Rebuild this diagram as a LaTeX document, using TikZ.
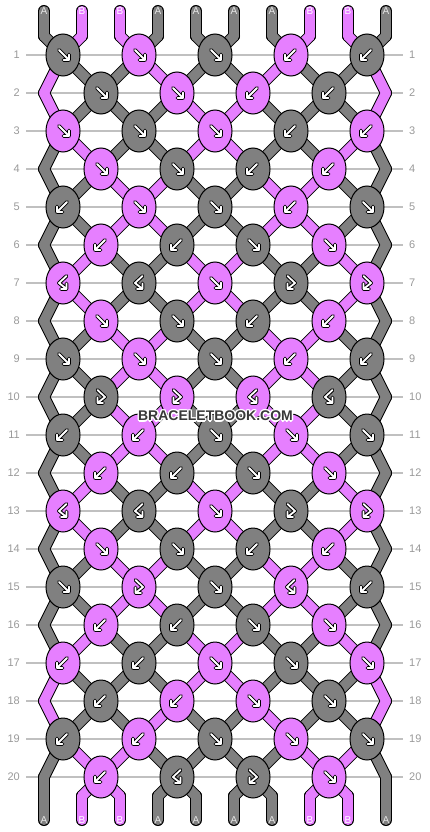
\documentclass[tikz,border=0pt]{standalone}
\usepackage{fontspec}
\setmainfont{Liberation Sans}
\usepackage{xstring}
\usetikzlibrary{shapes.geometric}

\definecolor{strA}{HTML}{808080}
\definecolor{strB}{HTML}{E67FFF}
\definecolor{labA}{HTML}{E6E6E6}
\definecolor{labB}{HTML}{FFFFFF}
\definecolor{rowline}{HTML}{C0C0C0}
\definecolor{rownum}{HTML}{999999}

\pgfdeclarelayer{lines}
\pgfdeclarelayer{strings}
\pgfsetlayers{lines,strings,main}

% knot arrows, y pointing down: f, b, x = forward-backward, y = backward-forward
\def\arrf{(-4,-5) -- (6,5) (0.5,5) -- (6,5) -- (6,-0.5)}
\def\arrb{(4,-5) -- (-6,5) (-0.5,5) -- (-6,5) -- (-6,-0.5)}
\def\arrx{(-3.5,-7) -- (4,0) -- (-3.5,6) (-3.5,0.5) -- (-3.5,6) -- (2,6)}
\def\arry{(3.5,-7) -- (-4,0) -- (3.5,6) (3.5,0.5) -- (3.5,6) -- (-2,6)}

% knot colour / knot type, row by row
\def\knotrows{%
  1/{A/f,B/f,A/f,B/b,A/b},
  2/{A/f,B/f,B/b,A/b},
  3/{B/f,A/f,B/f,A/b,B/b},
  4/{B/f,A/f,A/b,B/b},
  5/{A/b,B/f,A/f,B/b,A/f},
  6/{B/b,A/b,A/f,B/f},
  7/{B/y,A/y,B/f,A/x,B/x},
  8/{B/f,A/f,A/b,B/b},
  9/{A/f,B/f,A/f,B/b,A/b},
  10/{A/x,B/x,B/y,A/y},
  11/{A/b,B/b,A/f,B/f,A/f},
  12/{B/b,A/b,A/f,B/f},
  13/{B/y,A/y,B/f,A/x,B/x},
  14/{B/f,A/f,A/b,B/b},
  15/{A/f,B/x,A/f,B/y,A/b},
  16/{B/b,A/b,A/f,B/f},
  17/{B/b,A/b,B/f,A/f,B/f},
  18/{A/b,B/b,B/f,A/f},
  19/{A/b,B/b,A/f,B/f,A/f},
  20/{B/b,A/y,A/x,B/f}}

% strings in each position after row 0,...,20
\def\states{ABBAAAABBA,BAABAABAAB,BAAABBAAAB,ABAABBAABA,AABBAABBAA,AABBAABBAA,%
  ABAABBAABA,ABAABBAABA,AABBAABBAA,AABBAABBAA,AABBAABBAA,AABBAABBAA,%
  ABAABBAABA,ABAABBAABA,AABBAABBAA,AABBAABBAA,ABAABBAABA,BAAABBAAAB,%
  BAABAABAAB,ABBAAAABBA,ABBAAAABBA}

% #1 := name of the point where string position #3 sits in row #2
\newcommand{\posname}[3]{%
  \ifnum#2=0 \edef#1{top#3}%
  \else\ifnum#2=21 \edef#1{bot#3}%
  \else\ifodd#2 \pgfmathtruncatemacro\kj{floor(#3/2)}\edef#1{k#2-\kj}%
  \else\ifnum#3=0 \edef#1{eL#2}%
  \else\ifnum#3=9 \edef#1{eR#2}%
  \else\pgfmathtruncatemacro\kj{floor((#3-1)/2)}\edef#1{k#2-\kj}%
  \fi\fi\fi\fi\fi}

\newcommand{\stringpass}[1]{%
  \foreach \st [count=\rw from 0] in \states {
    \pgfmathtruncatemacro\rn{\rw+1}
    \foreach \p [count=\q] in {0,...,9} {
      \StrChar{\st}{\q}[\ch]
      \posname\pa\rw\p
      \posname\pb\rn\p
      \draw[#1=\ch] (\pa.center) -- (\pb.center);
      \ifnum\rw=0 \draw[#1=\ch] (lt\p.center) -- (top\p.center);\fi
      \ifnum\rw=20 \draw[#1=\ch] (bot\p.center) -- (lb\p.center);\fi
    }
  }}

\begin{document}
\begin{tikzpicture}[x=1pt,y=-1pt,
  knot/.style={ellipse,draw=black,line width=1,minimum width=34,minimum height=42,inner sep=0},
  arrback/.style={draw=black,line width=3.8,line cap=round,line join=round},
  arrfront/.style={draw=white,line width=1.8,line cap=round,line join=round},
  strout/.style={draw=black,line width=12,line cap=round,line join=round},
  strfill/.style={draw=str#1,line width=10,line cap=round,line join=round},
  strlab/.style={font=\fontsize{10}{10}\selectfont,inner sep=0},
  rowlab/.style={font=\fontsize{11}{11}\selectfont,text=rownum,inner xsep=6,inner ysep=0},
  rowline/.style={draw=rowline,line width=1.2},
  wmark/.style={font=\bfseries\fontsize{14}{14}\selectfont,inner sep=0}]
  \useasboundingbox (0,0) rectangle (430,832);

  \foreach \lab [count=\p from 0] in {A,B,B,A,A,A,A,B,B,A} {
    \node[strlab,text=lab\lab] (lt\p) at (44+38*\p,11) {\lab};
    \node[strlab,text=lab\lab] (lb\p) at (44+38*\p,820) {\lab};
    \coordinate (top\p) at (44+38*\p,36);
    \coordinate (bot\p) at (44+38*\p,796);
  }
  \foreach \rw in {1,...,20} {
    \node[rowlab,anchor=east] (rl\rw) at (26,17+38*\rw) {\rw};
    \node[rowlab,anchor=west] (rr\rw) at (403,17+38*\rw) {\rw};
    \coordinate (eL\rw) at (44,17+38*\rw);
    \coordinate (eR\rw) at (386,17+38*\rw);
  }

  \foreach \rw/\kl in \knotrows {
    \foreach \kc/\kt [count=\kn from 0] in \kl {
      \pgfmathsetmacro\kx{63+38*(1-mod(\rw,2))+76*\kn}
      \node[knot,fill=str\kc] (k\rw-\kn) at (\kx,17+38*\rw) {};
      \expandafter\let\expandafter\arrpath\csname arr\kt\endcsname
      \draw[arrback,shift={(k\rw-\kn.center)}] \arrpath;
      \draw[arrfront,shift={(k\rw-\kn.center)}] \arrpath;
    }
  }

  \begin{pgfonlayer}{lines}
    \foreach \rw in {1,...,20}
      \draw[rowline] (rl\rw.east) -- (rr\rw.west);
  \end{pgfonlayer}
  \begin{pgfonlayer}{strings}
    \stringpass{strout}
    \stringpass{strfill}
  \end{pgfonlayer}

  \foreach \a in {0,45,...,315}
    \node[wmark,text=white] (halo\a) at ([shift={(\a:1.3)}]215.5,416) {BRACELETBOOK.COM};
  \node[wmark,text=black!78] (wm) at (215.5,416) {BRACELETBOOK.COM};
\end{tikzpicture}
\end{document}
